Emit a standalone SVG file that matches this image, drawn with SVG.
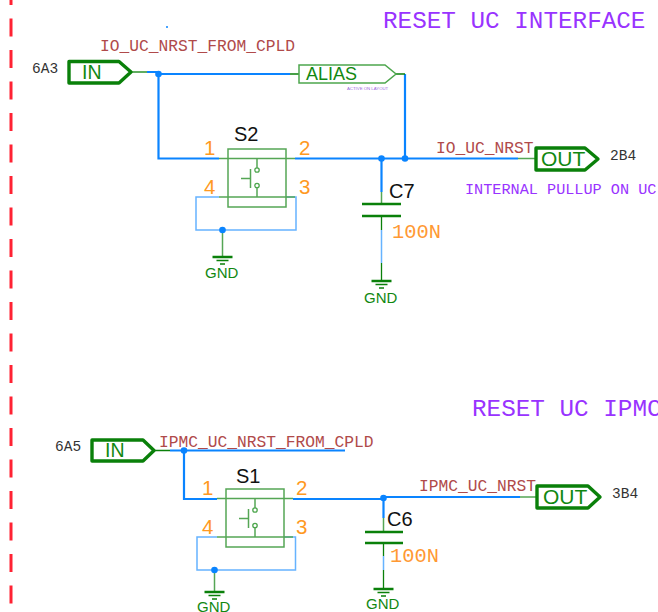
<svg xmlns="http://www.w3.org/2000/svg" width="658" height="612" viewBox="0 0 658 612">
<style>
text{font-family:"Liberation Mono","DejaVu Sans Mono",monospace}
.s{font-family:"Liberation Sans",Arial,sans-serif}
.title{font-size:24.3px;fill:#9933ff}
.note{font-size:15.2px;fill:#9933ff}
.net{font-size:16.25px;fill:#b04a4a}
.ref{font-size:14.5px;fill:#333}
.val{font-size:20.4px;fill:#ff9933}
.pin{font-size:20.5px;fill:#ff9922}
.des{font-size:20px;fill:#111}
.flagt{font-size:19.5px;fill:#118811}
.flago{font-size:21px;fill:#118811}
.gnd{font-size:15px;fill:#118811}
.flag{fill:#fff;stroke:#0a800a;stroke-width:3.4;stroke-linejoin:round}
.alias{fill:#fff;stroke:#4da64d;stroke-width:1.5}
.b{fill:none;stroke:#0a84ff;stroke-width:2.2}
.lb{fill:none;stroke:#66b3ff;stroke-width:1.5}
.g{fill:none;stroke:#0a800a;stroke-width:1.3}
.lg{fill:none;stroke:#55a655;stroke-width:1.5}
.cap{fill:none;stroke:#0a800a;stroke-width:2.5}
.dot{fill:#0a84ff}
.hole{fill:#fff;stroke:#4da64d;stroke-width:1.3}
</style>
<defs>
<g id="sw">
<rect class="lg" x="0" y="0" width="58" height="58"/>
<path class="lg" d="M-9 9.500H67M-9 48H67M29 9.500V19M29 38V48M22.500 20V39M13 29.500H22.500"/>
<circle class="hole" cx="29" cy="21" r="2.200"/>
<circle class="hole" cx="29" cy="36.500" r="2.200"/>
</g>
<g id="gs">
<path class="cap" d="M-10 0H10"/>
<path class="g" d="M-6 3.500H6M-2.500 7H2.500"/>
</g>
</defs>
<path id="border" d="M11 0V612" fill="none" stroke="#ff2233" stroke-width="3" stroke-dasharray="18 13.500" stroke-dashoffset="13"/>
<g id="connectors">
<path class="g" d="M131 72H147"/>
<path class="b" d="M147 72H158.500M158.500 74H290M158.500 74V158.500H219M295 158.500H518M381.500 158.500V192M405 74V158.500"/>
<path class="lb" d="M381.500 230V263M383.500 556V570" stroke-width="2"/>
<path class="b" d="M383.500 497V518M170 450.500H345M184 450.500V499H217M293 499H383.500M383.500 497H520"/>
<path class="g" d="M290 74H299M396 74H405M381.500 216V230M381.500 263V281M154 450.500H170M383.500 543V556M383.500 570V589"/>
<path class="lg" d="M518 158.500H535M381.500 192V204M520 497H537M383.500 518V532"/>
<path class="lb" d="M219 197H196V230H296V197H286"/>
<path class="lg" d="M222.500 230V257"/>
<path class="lb" d="M217 537H197V570H295.500V537H284"/>
<path class="lg" d="M214.500 570V592"/>
<circle class="dot" cx="158.500" cy="74" r="3.300"/>
<circle class="dot" cx="381.500" cy="158.500" r="3.300"/>
<circle class="dot" cx="405" cy="158.500" r="3.300"/>
<circle class="dot" cx="222.500" cy="230" r="3.300"/>
<circle class="dot" cx="184" cy="450.500" r="3.300"/>
<circle class="dot" cx="383.500" cy="498" r="3.300"/>
<circle class="dot" cx="214.500" cy="570" r="3.300"/>
<circle class="dot" cx="167" cy="27" r="1"/>
</g>
<text class="title" x="383" y="28">RESET UC INTERFACE</text>
<text class="title" x="472" y="416">RESET UC IPMC</text>
<text class="net" x="100" y="51">IO_UC_NRST_FROM_CPLD</text>
<text class="net" x="436" y="153">IO_UC_NRST</text>
<text class="net" x="159" y="447">IPMC_UC_NRST_FROM_CPLD</text>
<text class="net" x="419" y="491">IPMC_UC_NRST</text>
<text class="note" x="465" y="194">INTERNAL PULLUP ON UC</text>
<g id="in1">
<path class="flag" d="M69 61.500H119L131 72L119 83H69Z"/>
<text class="flagt s" x="82" y="78.500">IN</text>
<text class="ref" x="32" y="73">6A3</text>
</g>
<g id="alias1">
<path class="alias" d="M299 65H385L396 74L385 83H299Z"/>
<text class="s" x="306" y="80" font-size="18" fill="#118811">ALIAS</text>
<text class="s" x="347" y="90" font-size="4.300" fill="#9966dd">ACTIVE ON LAYOUT</text>
</g>
<g id="out1">
<path class="flag" d="M536 148H585L598 159L585 170H536Z"/>
<text class="flago s" x="541" y="166">OUT</text>
<text class="ref" x="610" y="160">2B4</text>
</g>
<g id="S2">
<use href="#sw" x="228" y="149"/>
<text class="des s" x="234" y="141">S2</text>
<text class="pin s" x="204" y="155">1</text>
<text class="pin s" x="299" y="155">2</text>
<text class="pin s" x="299" y="194">3</text>
<text class="pin s" x="204" y="194">4</text>
</g>
<g id="gnd1">
<use href="#gs" x="222.500" y="257"/>
<text class="gnd s" x="205" y="278">GND</text>
</g>
<g id="C7">
<path class="cap" d="M362 204H401M362 216H401"/>
<text class="des s" x="389" y="198">C7</text>
<text class="val" x="392" y="238">100N</text>
</g>
<g id="gnd2">
<use href="#gs" x="381.500" y="281"/>
<text class="gnd s" x="364" y="303">GND</text>
</g>
<g id="in2">
<path class="flag" d="M92 440H143L154 450.500L143 461H92Z"/>
<text class="flagt s" x="105" y="457">IN</text>
<text class="ref" x="55" y="451">6A5</text>
</g>
<g id="out2">
<path class="flag" d="M537 486H588L600 497L588 508H537Z"/>
<text class="flago s" x="543" y="504">OUT</text>
<text class="ref" x="612" y="498">3B4</text>
</g>
<g id="S1">
<use href="#sw" x="226" y="489"/>
<text class="des s" x="236" y="483">S1</text>
<text class="pin s" x="202" y="495">1</text>
<text class="pin s" x="296" y="495">2</text>
<text class="pin s" x="296" y="534">3</text>
<text class="pin s" x="202" y="534">4</text>
</g>
<g id="gnd3">
<use href="#gs" x="214.500" y="592"/>
<text class="gnd s" x="197" y="612">GND</text>
</g>
<g id="C6">
<path class="cap" d="M365 532H403M365 543H403"/>
<text class="des s" x="387" y="526">C6</text>
<text class="val" x="390" y="562">100N</text>
</g>
<g id="gnd4">
<use href="#gs" x="383.500" y="589"/>
<text class="gnd s" x="366" y="609">GND</text>
</g>
</svg>
